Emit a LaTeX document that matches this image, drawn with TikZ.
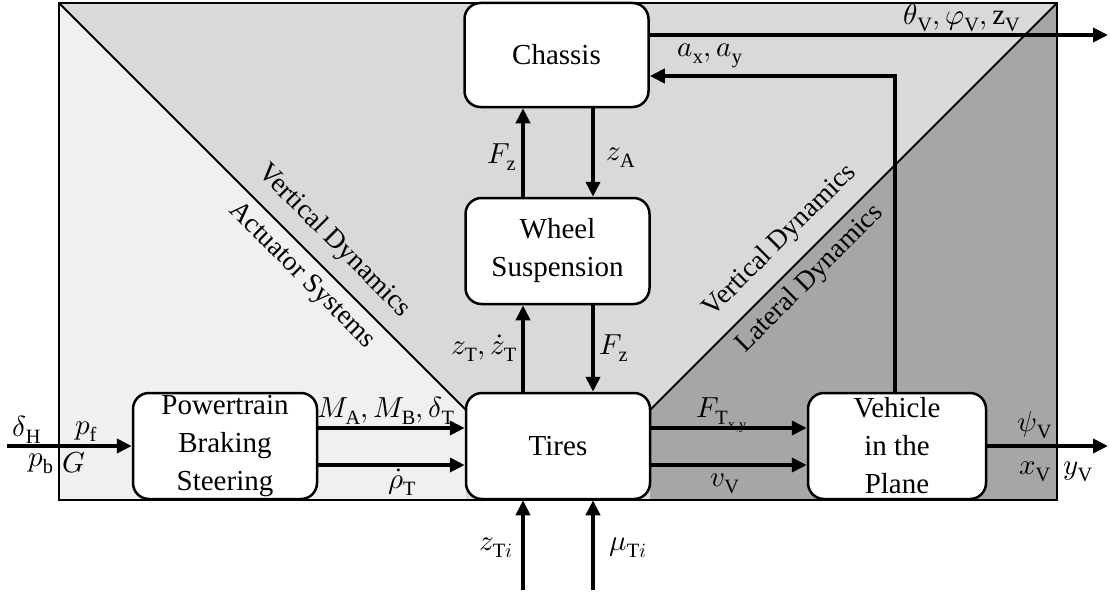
\documentclass[tikz,border=0pt]{standalone}
\usepackage{fontspec}
\usepackage{unicode-math}
\setmainfont{Liberation Serif}
\usetikzlibrary{arrows.meta}
\definecolor{zoneA}{HTML}{F0F0F0}
\definecolor{zoneB}{HTML}{D9D9D9}
\definecolor{zoneC}{HTML}{A6A6A6}
\begin{document}
\begin{tikzpicture}[x=1pt,y=-1pt,
  block/.style={draw=black, line width=2.5pt, fill=white, rounded corners=16pt,
    minimum width=184pt, minimum height=106pt, align=center, inner sep=0pt,
    font=\fontsize{29}{38}\selectfont},
  flow/.style={line width=4pt, -{Triangle[length=15pt,width=14pt]}},
  lbl/.style={inner sep=0pt, font=\fontsize{29}{34}\selectfont},
  zonetext/.style={inner sep=0pt, font=\fontsize{27.5}{32}\selectfont}]
\useasboundingbox (0,0) rectangle (1110,594);

% shaded zones behind the blocks
\fill[zoneB] (59,3) rectangle (1057,500);
\fill[zoneA] (59,3) -- (466,410) -- (466,500) -- (59,500) -- cycle;
\fill[zoneC] (1057,3) -- (650,410) -- (650,500) -- (1057,500) -- cycle;
\draw[line width=2pt] (59,3) -- (466,410);
\draw[line width=2pt] (1057,3) -- (650,410);
\draw[line width=2.5pt] (59,3) rectangle (1057,500);

% zone captions along the diagonals
\node[zonetext, rotate=-45] (zvl) at (334,241) {Vertical Dynamics};
\node[zonetext, rotate=-45] (zas) at (302,276) {Actuator Systems};
\node[zonetext, rotate=45] (zvr) at (780,241) {Vertical Dynamics};
\node[zonetext, rotate=45] (zld) at (810,279) {Lateral Dynamics};

% blocks
\node[block, minimum height=104pt] (chassis) at (556.5,55) {Chassis};
\node[block] (susp) at (557.5,251) {Wheel\\Suspension};
\node[block] (tires) at (558,446) {Tires};
\node[block] (pbs) at (225,446) {Powertrain\\Braking\\Steering};
\node[block, minimum width=178pt] (veh) at (897,446) {Vehicle\\in the\\Plane};

% helper coordinates for the free ends and the lanes
\coordinate (xl) at (523,0);
\coordinate (xr) at (593,0);
\coordinate (inp) at (7,446);
\coordinate (outp) at (1108,446);
\coordinate (outc) at (1108,35);
\coordinate (fb) at (895,76);
\coordinate (bz) at (523,590);
\coordinate (bm) at (593,590);
\coordinate (ya) at (0,428);
\coordinate (yb) at (0,465);

% vertical signal paths
\draw[flow] (susp.north -| xl) -- (chassis.south -| xl);
\draw[flow] (chassis.south -| xr) -- (susp.north -| xr);
\draw[flow] (tires.north -| xl) -- (susp.south -| xl);
\draw[flow] (susp.south -| xr) -- (tires.north -| xr);
\draw[flow] (bz) -- (bz |- tires.south);
\draw[flow] (bm) -- (bm |- tires.south);

% horizontal signal paths
\draw[flow] (inp) -- (pbs.west);
\draw[flow] (pbs.east |- ya) -- (tires.west |- ya);
\draw[flow] (pbs.east |- yb) -- (tires.west |- yb);
\draw[flow] (tires.east |- ya) -- (veh.west |- ya);
\draw[flow] (tires.east |- yb) -- (veh.west |- yb);
\draw[flow] (veh.east) -- (outp);
\draw[flow] (chassis.east |- outc) -- (outc);
\draw[flow] (veh.north -| fb) -- (fb) -- (chassis.east |- fb);

% signal labels
\node[lbl] (ldh) at (27,430) {$\delta_{\mathrm{H}}$};
\node[lbl] (lpf) at (86,432) {$p_{\mathrm{f}}$};
\node[lbl] (lpb) at (41,464) {$p_{\mathrm{b}}$};
\node[lbl] (lg) at (74,463) {$G$};
\node[lbl] (lm) at (386,411) {$M_{\mathrm{A}}, M_{\mathrm{B}}, \delta_{\mathrm{T}}$};
\node[lbl] (lrho) at (402,482) {$\dot{\rho}_{\mathrm{T}}$};
\node[lbl] (lft) at (722,415) {$F_{\mathrm{T}_{\mathrm{x,y}}}$};
\node[lbl] (lvv) at (725,484) {$v_{\mathrm{V}}$};
\node[lbl] (lpsi) at (1035,425) {$\psi_{\mathrm{V}}$};
\node[lbl] (lxv) at (1035,472) {$x_{\mathrm{V}}$};
\node[lbl] (lyv) at (1078,472) {$y_{\mathrm{V}}$};
\node[lbl] (lth) at (962,18) {$\theta_{\mathrm{V}}, \varphi_{\mathrm{V}}, \mathrm{z}_{\mathrm{V}}$};
\node[lbl] (lax) at (710,56) {$a_{\mathrm{x}}, a_{\mathrm{y}}$};
\node[lbl] (lfz1) at (502,157) {$F_{\mathrm{z}}$};
\node[lbl] (lza) at (621,158) {$z_{\mathrm{A}}$};
\node[lbl] (lzt) at (484,348) {$z_{\mathrm{T}}, \dot{z}_{\mathrm{T}}$};
\node[lbl] (lfz2) at (614,348) {$F_{\mathrm{z}}$};
\node[lbl] (lzti) at (496,548) {$z_{\mathrm{T}i}$};
\node[lbl] (lmu) at (628,548) {$\mu_{\mathrm{T}i}$};
\end{tikzpicture}
\end{document}
